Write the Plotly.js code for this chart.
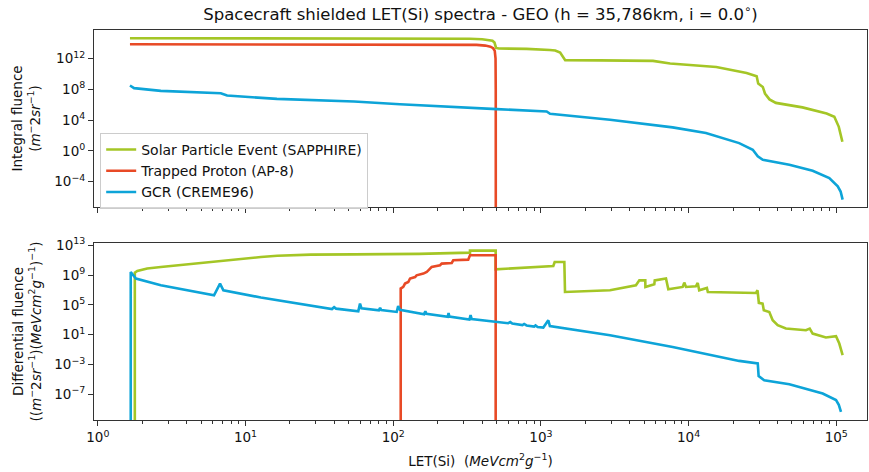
<!DOCTYPE html>
<html>
<head>
<meta charset="utf-8">
<script src="https://cdn.plot.ly/plotly-3.0.1.min.js"></script>
<style>html,body{margin:0;padding:0;background:#fff}#chart{width:869px;height:472px}</style>
</head>
<body>
<div id="chart"></div>
<script>
// ---- Data (LET in MeV cm2/g) ----
var seriesNames = ["Solar Particle Event (SAPPHIRE)", "Trapped Proton (AP-8)", "GCR (CREME96)"];

// Integral fluence (m^-2 sr^-1)
var speIntLET = [1.65, 10, 60, 150, 250, 330, 400, 440, 470, 485, 497, 520, 800, 1150, 1250, 1350, 1420, 1460, 2500, 5740, 7500, 15400, 24700, 28900, 29600, 31800, 32900, 35300, 39000, 59000, 86000, 97000, 104000, 110000];
var speIntVal = [4.4e14, 4.4e14, 4.3e14, 4.2e14, 4.0e14, 3.7e14, 3.2e14, 2.7e14, 2.0e14, 1.2e14, 2.4e13, 2.0e13, 1.8e13, 1.3e13, 1.1e13, 6e12, 1.5e12, 6.0e11, 5.8e11, 4.9e11, 2.2e11, 7.9e10, 1.35e10, 5.0e9, 5.6e8, 2.0e8, 2.8e7, 4.8e6, 1.7e6, 4.4e5, 7.2e4, 2.6e4, 1.3e3, 15];

var apIntLET = [1.65, 10, 100, 250, 367, 420, 455, 475, 487, 493, 494.5, 495];
var apIntVal = [7.2e13, 7.2e13, 7.1e13, 6.8e13, 5.9e13, 4.8e13, 3.5e13, 2.2e13, 1.0e13, 1e12, 1e8, 1e-12];

var gcrIntLET = [1.65, 1.76, 2.67, 6.8, 7.5, 16.3, 54.3, 111, 502, 1094, 1153, 2937, 7800, 13100, 22000, 27200, 29400, 31800, 48100, 69200, 89700, 102300, 107000, 110400];
var gcrIntVal = [3.1e8, 1.4e8, 6.2e7, 3.1e7, 1.55e7, 5.6e6, 2.6e6, 1.15e6, 2.6e5, 1.3e5, 6.5e4, 1.07e4, 1.1e3, 200, 10, 1.35, 0.19, 0.068, 0.015, 2.5e-3, 2.8e-4, 2.4e-5, 5e-6, 4.4e-7];

// Differential fluence ((m^-2 sr^-1)(MeV cm2 g^-1)^-1)
var speDiffLET = [1.78, 1.78, 1.85, 2.16, 2.67, 3.45, 4.48, 6.62, 9.77, 12.7, 16.4, 27.6, 54.3, 150, 331, 331, 494, 494, 1213, 1240, 1441, 1456, 2937, 4400, 4640, 5090, 5100, 5860, 5900, 7030, 7290, 9120, 9350, 9600, 11200, 11530, 11800, 13300, 13500, 28600, 29300, 29900, 31700, 32300, 35200, 37100, 40100, 45600, 62300, 66100, 69200, 85100, 99600, 104800, 110400];
var speDiffVal = [1e-12, 2.2e9, 3.6e9, 7.6e9, 1.23e10, 2.1e10, 3.5e10, 7.9e10, 1.6e11, 2.7e11, 4.0e11, 5.6e11, 6.2e11, 7.1e11, 1.05e12, 1.95e12, 1.95e12, 6.0e9, 1.66e10, 5.8e10, 5.8e10, 5.5e6, 9.3e6, 4.4e7, 2.0e8, 2.0e8, 2.6e7, 5.9e7, 2.0e8, 3.5e8, 1.26e7, 2.6e7, 1e8, 2.6e7, 3.2e7, 8.9e7, 9.3e6, 1.9e7, 5.5e6, 4.1e6, 9.3e6, 1.9e5, 1.5e5, 1.95e4, 1.15e4, 890, 190, 68, 41, 68, 14.5, 4.3, 6.3, 0.66, 0.018];

var apDiffLET = [112.4, 112.4, 117, 120.2, 126.5, 130, 140.6, 144, 160, 168.6, 177.5, 182, 207.5, 213, 249, 255, 322, 331, 494, 494];
var apDiffVal = [1e-12, 1.6e7, 2.6e7, 7.4e7, 1.2e8, 3.5e8, 5.6e8, 9.5e8, 1.6e9, 2.6e9, 7.6e9, 1.23e10, 2.1e10, 3.5e10, 4.3e10, 9.8e10, 1.2e11, 4.6e11, 4.6e11, 1e-12];

var gcrDiffLET = [1.67, 1.67, 1.81, 2.67, 6.12, 6.72, 7.08, 12.7, 38.5, 39.8, 41, 54, 58, 59.6, 61, 80, 81.5, 83, 105.6, 108, 111, 162, 165, 168, 234, 237, 240, 328, 334, 340, 502, 600, 620, 640, 750, 770, 800, 900, 920, 950, 1038, 1122, 1150, 2937, 7800, 13100, 22000, 29400, 29800, 32500, 48100, 80900, 99600, 104000, 107600];
var gcrDiffVal = [1e-12, 2.6e9, 3.5e8, 4.4e7, 2.0e6, 7.4e7, 9.3e6, 1.0e6, 2.8e4, 5.0e4, 3.2e4, 1.55e4, 1.4e4, 1.5e5, 3.5e4, 1.9e4, 4.0e4, 2.0e4, 1.15e4, 7.2e4, 2.2e4, 5.6e3, 1.4e4, 6.3e3, 2.5e3, 8.5e3, 2.8e3, 1.1e3, 4.2e3, 1.26e3, 525, 355, 500, 316, 200, 280, 178, 126, 178, 112, 93, 890, 150, 8.7, 0.23, 0.03, 3.1e-3, 1.4e-3, 2.8e-5, 7.9e-6, 2.3e-6, 1.3e-7, 1.7e-8, 4e-9, 4.5e-10];

// Tick labels
var xTickVals = [1, 10, 100, 1000, 10000, 100000];
var xTickText = ["10<sup>0</sup>", "10<sup>1</sup>", "10<sup>2</sup>", "10<sup>3</sup>", "10<sup>4</sup>", "10<sup>5</sup>"];
var y1TickVals = [1e-4, 1, 1e4, 1e8, 1e12];
var y1TickText = ["10<sup>−4</sup>", "10<sup>0</sup>", "10<sup>4</sup>", "10<sup>8</sup>", "10<sup>12</sup>"];
var y2TickVals = [1e-7, 1e-3, 10, 1e5, 1e9, 1e13];
var y2TickText = ["10<sup>−7</sup>", "10<sup>−3</sup>", "10<sup>1</sup>", "10<sup>5</sup>", "10<sup>9</sup>", "10<sup>13</sup>"];

// ---- Styling ----
var colors = ["#a4c626", "#e84a26", "#0da4d8"];
var LW = 2.6;
var FONT = "DejaVu Sans";
var minorX = [];
[1, 10, 100, 1000, 10000, 100000].forEach(function (d) { for (var k = 2; k <= 9; k++) minorX.push(k * d); });

function tr(x, y, i, xa, ya, legend) {
  return {x: x, y: y, type: "scatter", mode: "lines", name: seriesNames[i],
    line: {color: colors[i], width: LW}, xaxis: xa, yaxis: ya, showlegend: legend, hoverinfo: "skip"};
}
var data = [
  tr(speIntLET, speIntVal, 0, "x", "y", true),
  tr(apIntLET, apIntVal, 1, "x", "y", true),
  tr(gcrIntLET, gcrIntVal, 2, "x", "y", true),
  tr(speDiffLET, speDiffVal, 0, "x2", "y2", false),
  tr(apDiffLET, apDiffVal, 1, "x2", "y2", false),
  tr(gcrDiffLET, gcrDiffVal, 2, "x2", "y2", false)
];

var axCommon = {showline: true, mirror: true, linecolor: "#333", linewidth: 1, showgrid: false, zeroline: false,
  ticks: "outside", ticklen: 5, tickwidth: 1, tickcolor: "#333", tickfont: {family: FONT, size: 13.5, color: "#111"}};
function xa(anchor, labels) {
  return Object.assign({}, axCommon, {type: "log", anchor: anchor, domain: [0, 1], range: [-0.026, 5.208],
    tickmode: "array", tickvals: xTickVals, ticktext: xTickText, showticklabels: labels,
    minor: {tickmode: "array", tickvals: minorX, ticks: "outside", ticklen: 3, tickwidth: 1, tickcolor: "#333"}});
}
var xaxis1 = xa("y", false);
var xaxis2 = xa("y2", true);
xaxis2.title = {text: "LET(Si)\u00a0\u00a0(<i>MeVcm</i><sup>2</sup><i>g</i><sup>−1</sup>)", font: {family: FONT, size: 13.5, color: "#111"}, standoff: 12};

var yaxis1 = Object.assign({}, axCommon, {type: "log", anchor: "x", domain: [0.5462, 1], range: [-7.31, 15.71],
  tickmode: "array", tickvals: y1TickVals, ticktext: y1TickText,
  title: {text: "Integral fluence<br>(<i>m</i><sup>−</sup>2<i>sr</i><sup>−1</sup>)", font: {family: FONT, size: 13.5, color: "#111"}, standoff: 10}});
var yaxis2 = Object.assign({}, axCommon, {type: "log", anchor: "x2", domain: [0, 0.4538], range: [-10.44, 13.31],
  tickmode: "array", tickvals: y2TickVals, ticktext: y2TickText,
  title: {text: "Differential fluence<br>((<i>m</i><sup>−</sup>2<i>sr</i><sup>−1</sup>)(<i>MeVcm</i><sup>2</sup><i>g</i><sup>−1</sup>)<sup>−1</sup>)", font: {family: FONT, size: 13.5, color: "#111"}, standoff: 9}});

var layout = {
  width: 869, height: 472,
  margin: {l: 94, r: 2, t: 30, b: 52},
  paper_bgcolor: "#fff", plot_bgcolor: "#fff",
  font: {family: FONT, color: "#111"},
  title: {text: "Spacecraft shielded LET(Si) spectra - GEO (h = 35,786km, i = 0.0<sup>∘</sup>)",
    font: {family: FONT, size: 16.5, color: "#111"}, x: 0.5, xanchor: "center", y: 0.97, yanchor: "middle", xref: "paper"},
  xaxis: xaxis1, yaxis: yaxis1, xaxis2: xaxis2, yaxis2: yaxis2,
  showlegend: true,
  legend: {x: 0.008, y: 0.736, xanchor: "left", yanchor: "top", xref: "paper", yref: "paper",
    bgcolor: "rgba(255,255,255,0.8)", bordercolor: "#cccccc", borderwidth: 1,
    font: {family: FONT, size: 14, color: "#111"}, itemwidth: 30, tracegroupgap: 0}
};
Plotly.newPlot("chart", data, layout, {staticPlot: true, displayModeBar: false});
</script>
</body>
</html>
